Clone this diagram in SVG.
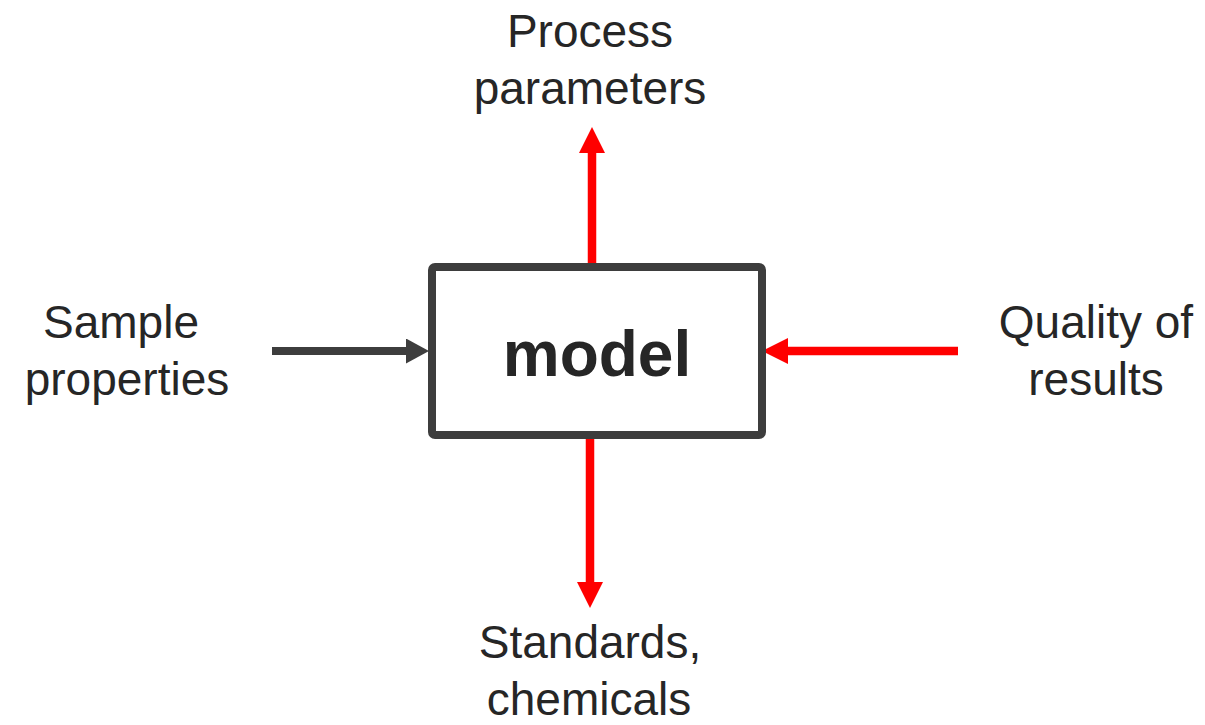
<svg xmlns="http://www.w3.org/2000/svg" width="1205" height="725" viewBox="0 0 1205 725">
<style>
.lbl{font-family:"Liberation Sans",Arial,sans-serif;font-size:46px;fill:#262626;text-anchor:middle}
.main{font-family:"Liberation Sans",Arial,sans-serif;font-size:64px;font-weight:bold;fill:#262626;text-anchor:middle}
.box{fill:#ffffff;stroke:#3d3d3d;stroke-width:8}
.red{stroke:#ff0000;stroke-width:8.5;fill:none}
.gray{stroke:#3d3d3d;stroke-width:8;fill:none}
</style>
<defs>
<marker id="hr" markerUnits="userSpaceOnUse" viewBox="0 0 26 26" markerWidth="26" markerHeight="26" refX="0" refY="13" orient="auto"><path d="M0,0 L26,13 L0,26 z" fill="#ff0000"/></marker>
<marker id="hg" markerUnits="userSpaceOnUse" viewBox="0 0 23 25" markerWidth="23" markerHeight="25" refX="0" refY="12.5" orient="auto"><path d="M0,0 L23,12.5 L0,25 z" fill="#3d3d3d"/></marker>
</defs>
<rect width="1205" height="725" fill="#ffffff"/>
<g id="connectors">
<path class="gray" d="M272,351 H406" marker-end="url(#hg)"/>
<path class="red" d="M592,263 V153" marker-end="url(#hr)"/>
<path class="red" d="M958,351 H788" marker-end="url(#hr)"/>
<path class="red" d="M590,439 V582" marker-end="url(#hr)"/>
</g>
<g id="model">
<rect class="box" x="432" y="267" width="330" height="168" rx="3"/>
<text class="main" x="597" y="376">model</text>
</g>
<g id="process-parameters">
<text class="lbl" x="590" y="47">Process</text>
<text class="lbl" x="590" y="104">parameters</text>
</g>
<g id="sample-properties">
<text class="lbl" x="121" y="338">Sample</text>
<text class="lbl" x="127" y="395">properties</text>
</g>
<g id="quality-of-results">
<text class="lbl" x="1096" y="338">Quality of</text>
<text class="lbl" x="1096" y="395">results</text>
</g>
<g id="standards-chemicals">
<text class="lbl" x="590" y="658">Standards,</text>
<text class="lbl" x="589" y="715">chemicals</text>
</g>
</svg>
